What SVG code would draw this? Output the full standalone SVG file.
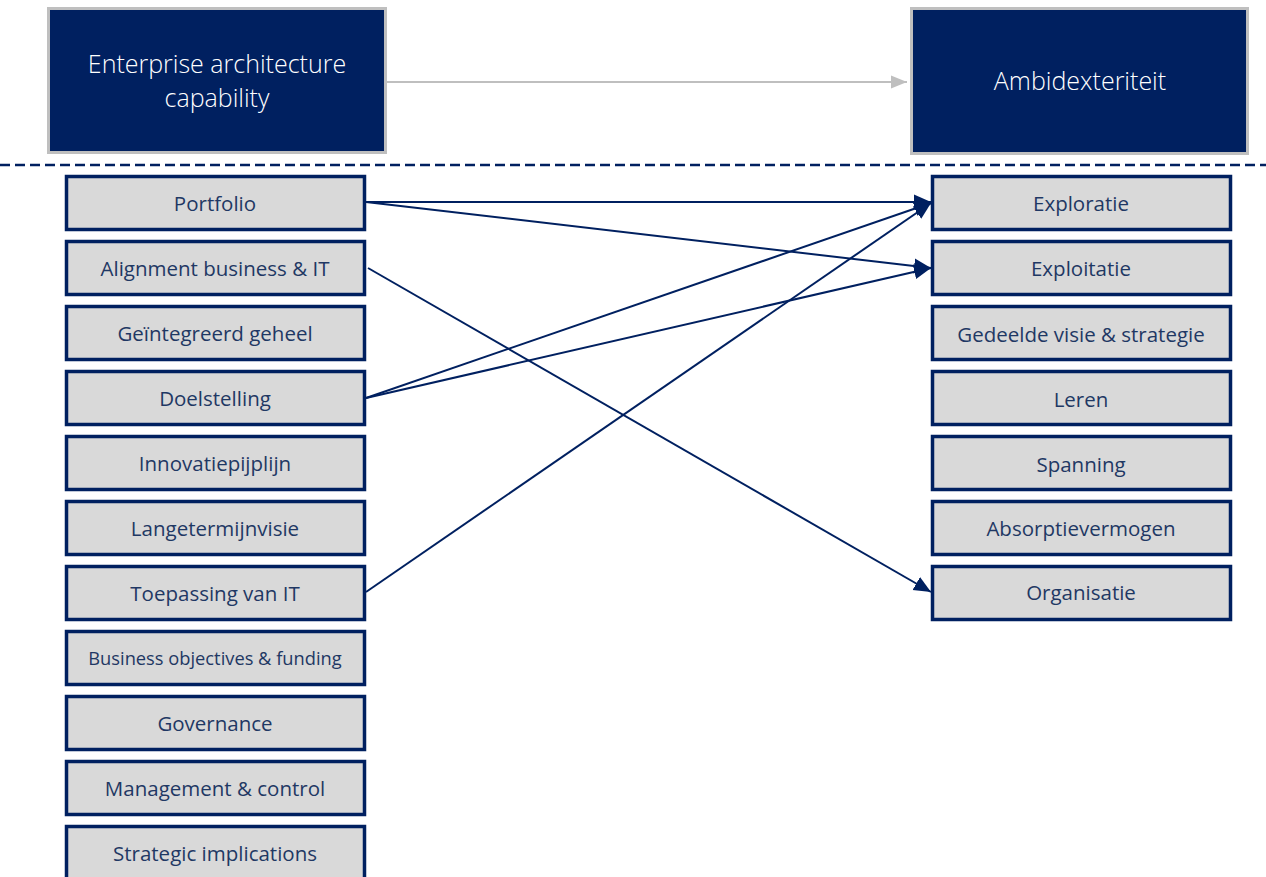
<svg xmlns="http://www.w3.org/2000/svg" width="1266" height="877" viewBox="0 0 1266 877">
<defs>
<style>
.top rect{fill:#002060;stroke:#BFBFBF;stroke-width:3}
.top text{fill:#FFFFFF;font-family:"Open Sans","Liberation Sans",sans-serif;font-size:25px;font-weight:300;text-anchor:middle}
.box rect{fill:#D9D9D9;stroke:#002060;stroke-width:3.5}
.box text{fill:#1F3864;font-family:"Open Sans","Liberation Sans",sans-serif;font-size:20.5px;text-anchor:middle}
.conn line{stroke:#002060;stroke-width:2;fill:none}
</style>
<marker id="ah" markerUnits="userSpaceOnUse" markerWidth="20" markerHeight="18" refX="17" refY="9" orient="auto">
<path d="M0,1.5 L17,9 L0,16.5 Z" fill="#002060"/>
</marker>
<marker id="ahg" markerUnits="userSpaceOnUse" markerWidth="18" markerHeight="16" refX="16" refY="8" orient="auto">
<path d="M0,1.5 L16,8 L0,14.5 Z" fill="#BFBFBF"/>
</marker>
</defs>
<rect width="1266" height="877" fill="#FFFFFF"/>

<g id="ea-capability" class="top">
<rect x="48.5" y="8.5" width="337" height="144"/>
<text x="217" y="73">Enterprise architecture</text>
<text x="217" y="107">capability</text>
</g>
<g id="ambidexteriteit" class="top">
<rect x="911.5" y="8.5" width="336" height="145"/>
<text x="1080" y="90">Ambidexteriteit</text>
</g>

<line x1="0" y1="165" x2="1266" y2="165" stroke="#002060" stroke-width="2.5" stroke-dasharray="10,5"/>

<g id="l-portfolio" class="box"><rect x="66.5" y="176.5" width="298" height="53"/><text x="215" y="211">Portfolio</text></g>
<g id="l-alignment" class="box"><rect x="66.5" y="241.5" width="298" height="53"/><text x="215" y="276">Alignment business &amp; IT</text></g>
<g id="l-geintegreerd" class="box"><rect x="66.5" y="306.5" width="298" height="53"/><text x="215" y="341">Geïntegreerd geheel</text></g>
<g id="l-doelstelling" class="box"><rect x="66.5" y="371.5" width="298" height="53"/><text x="215" y="406">Doelstelling</text></g>
<g id="l-innovatie" class="box"><rect x="66.5" y="436.5" width="298" height="53"/><text x="215" y="471">Innovatiepijplijn</text></g>
<g id="l-langetermijn" class="box"><rect x="66.5" y="501.5" width="298" height="53"/><text x="215" y="536">Langetermijnvisie</text></g>
<g id="l-toepassing" class="box"><rect x="66.5" y="566.5" width="298" height="53"/><text x="215" y="601">Toepassing van IT</text></g>
<g id="l-business" class="box"><rect x="66.5" y="631.5" width="298" height="53"/><text x="215" y="665" style="font-size:18.3px">Business objectives &amp; funding</text></g>
<g id="l-governance" class="box"><rect x="66.5" y="696.5" width="298" height="53"/><text x="215" y="731">Governance</text></g>
<g id="l-management" class="box"><rect x="66.5" y="761.5" width="298" height="53"/><text x="215" y="796">Management &amp; control</text></g>
<g id="l-strategic" class="box"><rect x="66.5" y="826.5" width="298" height="53"/><text x="215" y="861">Strategic implications</text></g>

<g id="r-exploratie" class="box"><rect x="932.5" y="176.5" width="298" height="53"/><text x="1081" y="211">Exploratie</text></g>
<g id="r-exploitatie" class="box"><rect x="932.5" y="241.5" width="298" height="53"/><text x="1081" y="276">Exploitatie</text></g>
<g id="r-gedeelde" class="box"><rect x="932.5" y="306.5" width="298" height="53"/><text x="1081" y="342">Gedeelde visie &amp; strategie</text></g>
<g id="r-leren" class="box"><rect x="932.5" y="371.5" width="298" height="53"/><text x="1081" y="407">Leren</text></g>
<g id="r-spanning" class="box"><rect x="932.5" y="436.5" width="298" height="53"/><text x="1081" y="472">Spanning</text></g>
<g id="r-absorptie" class="box"><rect x="932.5" y="501.5" width="298" height="53"/><text x="1081" y="536">Absorptievermogen</text></g>
<g id="r-organisatie" class="box"><rect x="932.5" y="566.5" width="298" height="53"/><text x="1081" y="600">Organisatie</text></g>

<g id="connectors" class="conn">
<line x1="387" y1="82" x2="907" y2="82" style="stroke:#BFBFBF" marker-end="url(#ahg)"/>
<line x1="366" y1="202" x2="931" y2="202" marker-end="url(#ah)"/>
<line x1="366" y1="202" x2="931" y2="268" marker-end="url(#ah)"/>
<line x1="368" y1="268" x2="931" y2="592" marker-end="url(#ah)"/>
<line x1="366" y1="398" x2="931" y2="203" marker-end="url(#ah)"/>
<line x1="366" y1="398" x2="931" y2="268" marker-end="url(#ah)"/>
<line x1="366" y1="592" x2="931" y2="203" marker-end="url(#ah)"/>
</g>
</svg>
